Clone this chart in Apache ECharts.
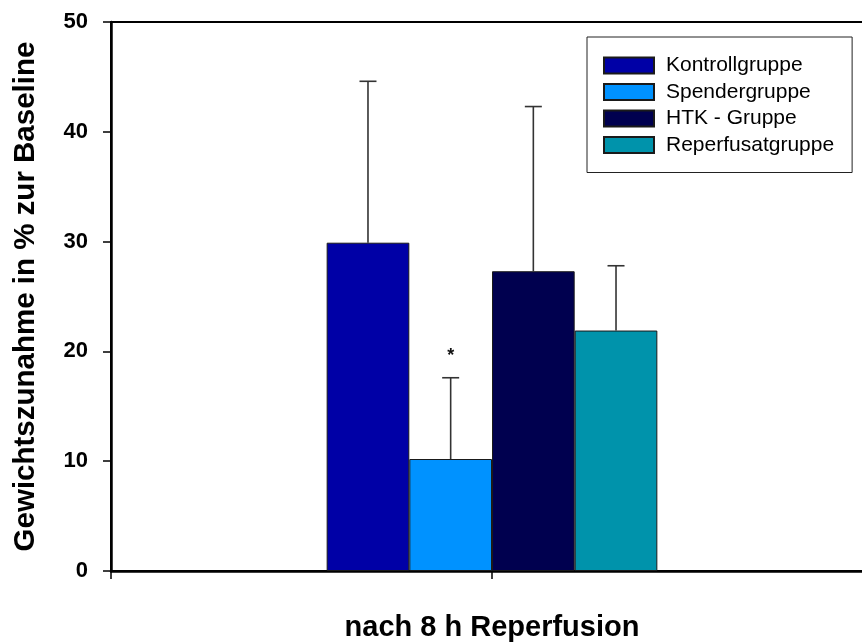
<!DOCTYPE html>
<html>
<head>
<meta charset="utf-8">
<script src="https://cdn.jsdelivr.net/npm/echarts@6/dist/echarts.min.js"></script>
<style>
html,body{margin:0;padding:0;background:#fff;}
#chart{width:862px;height:642px;}
</style>
</head>
<body>
<div id="chart"></div>
<script>
const categories = ['nach 8 h Reperfusion'];
const seriesNames = ['Kontrollgruppe', 'Spendergruppe', 'HTK - Gruppe', 'Reperfusatgruppe'];
const meanValues = [29.9, 10.2, 27.3, 21.9];
const errorUpper = [44.6, 17.6, 42.3, 27.8];
const sigMarks = ['', '*', '', ''];
const yTicks = [0, 10, 20, 30, 40, 50];
const colors = ['#0000A6', '#0092FF', '#00004F', '#0093AB'];

const groupFraction = 0.434;
const chart = echarts.init(document.getElementById('chart'));

const barSeries = seriesNames.map((name, i) => ({
  name: name,
  type: 'bar',
  data: [meanValues[i]],
  barGap: '0%',
  barCategoryGap: ((1 - groupFraction) * 100).toFixed(1) + '%',
  itemStyle: { color: colors[i], borderColor: '#1a1a1a', borderWidth: 1 },
  z: 2
}));

const errorSeries = {
  type: 'custom',
  name: 'errors',
  data: seriesNames.map((n, i) => [0, meanValues[i], errorUpper[i], i]),
  encode: { x: 0, y: [1, 2] },
  z: 1,
  silent: true,
  renderItem: function (params, api) {
    const i = api.value(3);
    const band = api.size([1, 0])[0];
    const barW = band * groupFraction / seriesNames.length;
    const base = api.coord([api.value(0), api.value(1)]);
    const top = api.coord([api.value(0), api.value(2)]);
    const x = base[0] + (i - (seriesNames.length - 1) / 2) * barW;
    const cap = 8.5;
    const style = { stroke: '#333', lineWidth: 1.6 };
    const children = [
      { type: 'line', shape: { x1: x, y1: base[1], x2: x, y2: top[1] }, style: style },
      { type: 'line', shape: { x1: x - cap, y1: top[1], x2: x + cap, y2: top[1] }, style: style }
    ];
    if (sigMarks[i]) {
      children.push({ type: 'text', style: { text: sigMarks[i], x: x, y: top[1] - 22, align: 'center', verticalAlign: 'middle', font: 'bold 18px "Liberation Sans"', fill: '#111' } });
    }
    return { type: 'group', children: children };
  }
};

chart.setOption({
  animation: false,
  backgroundColor: '#fff',
  textStyle: { fontFamily: '"Liberation Sans", Arial, sans-serif' },
  grid: { left: 111, top: 22, width: 762, bottom: 71, outerBoundsMode: 'none', containLabel: false, show: true, borderColor: '#000', borderWidth: 2, backgroundColor: 'transparent' },
  legend: {
    data: seriesNames,
    orient: 'vertical',
    left: 587,
    top: 37,
    padding: [18, 18, 17, 16],
    itemWidth: 50,
    itemHeight: 16,
    itemGap: 5.5,
    icon: 'rect',
    borderColor: '#222',
    borderWidth: 1,
    backgroundColor: '#fff',
    textStyle: { fontSize: 21, color: '#000', fontFamily: '"Liberation Sans", Arial, sans-serif', padding: [0, 0, 0, 7] }
  },
  xAxis: [{
    type: 'category',
    data: categories,
    axisLine: { lineStyle: { color: '#000', width: 2.5 } },
    axisTick: { show: true, alignWithLabel: true, length: 8, lineStyle: { color: '#000', width: 1.5 } },
    axisLabel: { margin: 42, fontSize: 29, fontWeight: 'bold', color: '#000' }
  }, {
    type: 'category',
    data: categories,
    position: 'bottom',
    axisLine: { show: false },
    axisTick: { show: true, length: 8, lineStyle: { color: '#000', width: 1.5 } },
    axisLabel: { show: false }
  }],
  yAxis: {
    type: 'value',
    min: yTicks[0],
    max: yTicks[yTicks.length - 1],
    interval: 10,
    name: 'Gewichtszunahme in % zur Baseline',
    nameLocation: 'middle',
    nameGap: 70,
    nameTextStyle: { fontSize: 29.5, fontWeight: 'bold', color: '#000' },
    splitLine: { show: false },
    axisLine: { show: true, lineStyle: { color: '#000', width: 2.5 } },
    axisTick: { show: true, length: 8, lineStyle: { color: '#000', width: 1.5 } },
    axisLabel: { margin: 23, fontSize: 22, fontWeight: 'bold', color: '#000' }
  },
  series: [...barSeries, errorSeries]
});
</script>
</body>
</html>
